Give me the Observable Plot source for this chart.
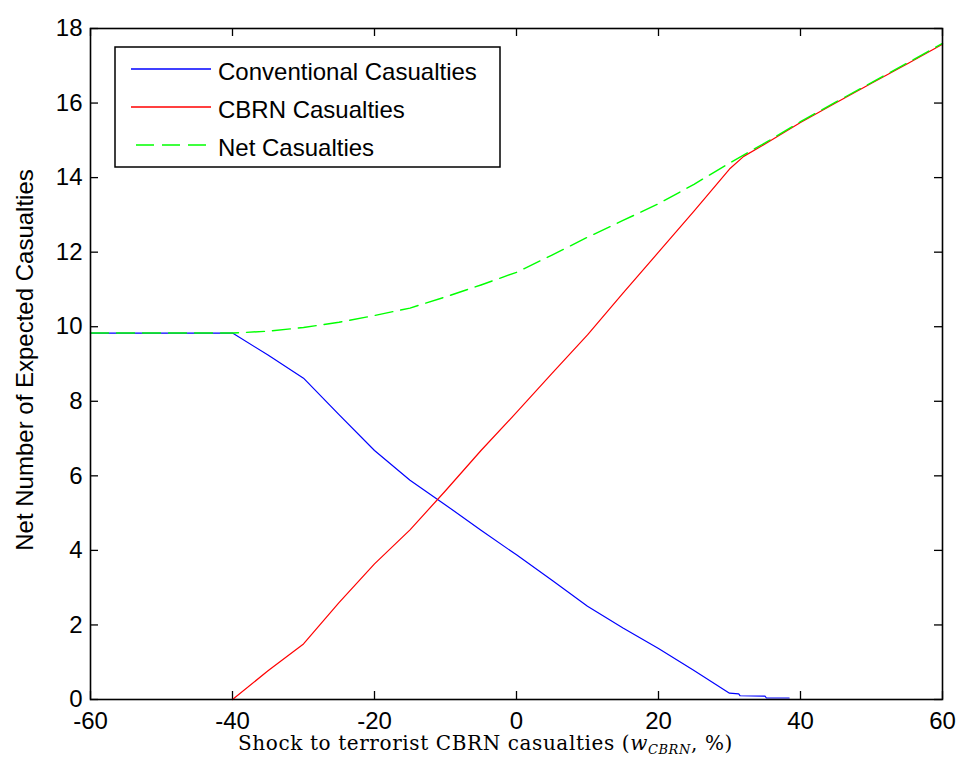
<!DOCTYPE html>
<html><head><meta charset="utf-8">
<script src="https://cdn.jsdelivr.net/npm/d3@7"></script>
<script src="https://cdn.jsdelivr.net/npm/@observablehq/plot@0.6"></script>
<style>
body{margin:0;background:#fff;}
#wrap{width:958px;height:773px;}
</style></head>
<body><div id="wrap"></div>
<script>
// Conventional casualties (blue)
const convX = [-60,-50,-40,-35,-30,-25,-20,-15,-10,-5,0,5,10,15,20,25,30,31.3,31.5,35,35.2,38.4];
const convY = [9.83,9.83,9.83,9.24,8.62,7.64,6.68,5.88,5.22,4.54,3.88,3.2,2.5,1.92,1.37,0.78,0.17,0.15,0.1,0.09,0.04,0.04];
// CBRN casualties (red)
const cbrnX = [-40,-35,-30,-25,-20,-15,-10,-5,0,5,10,15,20,25,30,32,35,40,45,50,55,60];
const cbrnY = [0,0.77,1.49,2.6,3.64,4.55,5.6,6.68,7.7,8.75,9.78,10.9,12.0,13.1,14.23,14.57,14.9,15.48,16.01,16.53,17.05,17.58];
// Net casualties (green dashed)
const netX = [-60,-50,-40,-35,-30,-25,-20,-15,-10,-5,0,5,10,15,20,25,30,35,40,45,50,55,60];
const netY = [9.83,9.83,9.83,9.88,9.98,10.12,10.3,10.5,10.8,11.12,11.46,11.92,12.4,12.85,13.3,13.82,14.39,14.93,15.5,16.03,16.55,17.07,17.6];

const xTicks = [-60,-40,-20,0,20,40,60];
const yTicks = [0,2,4,6,8,10,12,14,16,18];
const seriesNames = ["Conventional Casualties","CBRN Casualties","Net Casualties"];
const seriesColors = ["#0000ff","#ff0000","#00ff00"];
const xLabel = ["Shock to terrorist CBRN casualties (", "w", "CBRN", ", %)"];
const yLabel = "Net Number of Expected Casualties";

const conv = convX.map((x,i)=>({x, y: convY[i]}));
const cbrn = cbrnX.map((x,i)=>({x, y: cbrnY[i]}));
const net = netX.map((x,i)=>({x, y: netY[i]}));

const W = 958, H = 773, mL = 90, mR = 16, mT = 28, mB = 74;
const pw = W - mL - mR, ph = H - mT - mB, tk = 8;

const chart = Plot.plot({
  width: W, height: H,
  marginLeft: mL, marginRight: mR, marginTop: mT, marginBottom: mB,
  style: {fontFamily: "'Liberation Sans', Arial, sans-serif", fontSize: "24px", color: "#000", background: "#fff"},
  x: {domain: [-60, 60]},
  y: {domain: [0, 18]},
  marks: [
    Plot.gridX(xTicks, {stroke: "#000", strokeOpacity: 1, strokeWidth: 1.3, insetTop: ph - tk}),
    Plot.gridX(xTicks, {stroke: "#000", strokeOpacity: 1, strokeWidth: 1.3, insetBottom: ph - tk}),
    Plot.gridY(yTicks, {stroke: "#000", strokeOpacity: 1, strokeWidth: 1.3, insetRight: pw - tk}),
    Plot.gridY(yTicks, {stroke: "#000", strokeOpacity: 1, strokeWidth: 1.3, insetLeft: pw - tk}),
    Plot.axisX(xTicks, {tickSize: 0, tickPadding: 12, fontSize: 24, label: null, tickFormat: d => String(d)}),
    Plot.axisY(yTicks, {tickSize: 0, tickPadding: 8, fontSize: 24, label: null, tickFormat: d => String(d)}),
    Plot.line(conv, {x: "x", y: "y", stroke: seriesColors[0], strokeWidth: 1.2}),
    Plot.line(cbrn, {x: "x", y: "y", stroke: seriesColors[1], strokeWidth: 1.2}),
    Plot.line(net, {x: "x", y: "y", stroke: seriesColors[2], strokeWidth: 1.4, strokeDasharray: "18,8"}),
    Plot.frame({stroke: "#000", strokeWidth: 1.6})
  ]
});
document.getElementById("wrap").appendChild(chart);

const svg = d3.select(chart);
// y label
svg.append("text")
  .attr("transform", "translate(33,360) rotate(-90)")
  .attr("text-anchor", "middle")
  .attr("font-family", "'Liberation Sans', Arial, sans-serif")
  .attr("font-size", 24)
  .attr("fill", "#000")
  .text(yLabel);
// x label
const xl = svg.append("text")
  .attr("x", 238).attr("y", 750)
  .attr("text-anchor", "start")
  .attr("font-family", "'DejaVu Serif', 'Liberation Serif', serif")
  .attr("font-size", 20)
  .attr("letter-spacing", 0.6)
  .attr("fill", "#000");
xl.append("tspan").text(xLabel[0]);
xl.append("tspan").attr("font-style", "italic").text(xLabel[1]);
xl.append("tspan").attr("font-style", "italic").attr("font-size", 13).attr("dy", 4).text(xLabel[2]);
xl.append("tspan").attr("dy", -4).text(xLabel[3]);

// legend
const lg = svg.append("g");
lg.append("rect").attr("x", 115).attr("y", 47).attr("width", 385).attr("height", 120)
  .attr("fill", "#fff").attr("stroke", "#000").attr("stroke-width", 1.5);
const rowY = [69, 107, 145];
seriesNames.forEach((name, i) => {
  lg.append("line").attr("x1", 131).attr("x2", 211).attr("y1", rowY[i]).attr("y2", rowY[i])
    .attr("stroke", seriesColors[i]).attr("stroke-width", 1.4)
    .attr("stroke-dasharray", i === 2 ? "18,8" : null)
    .attr("stroke-dashoffset", i === 2 ? -5 : 0);
  lg.append("text").attr("x", 218).attr("y", rowY[i] + 11)
    .attr("text-anchor", "start")
    .attr("font-family", "'Liberation Sans', Arial, sans-serif").attr("font-size", 24)
    .attr("fill", "#000").text(name);
});
</script>
</body></html>
